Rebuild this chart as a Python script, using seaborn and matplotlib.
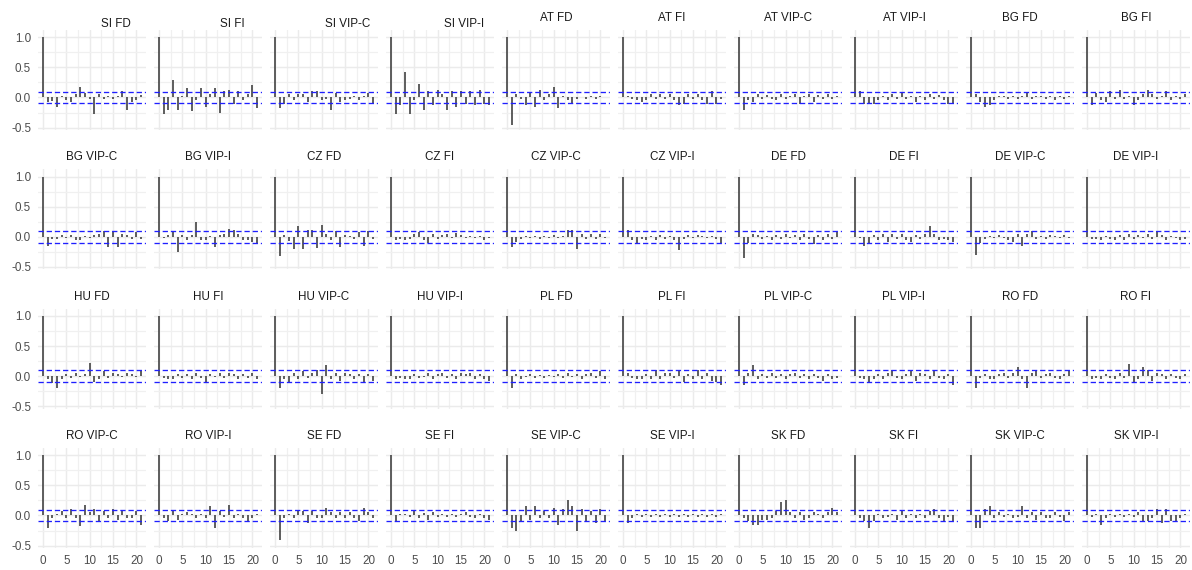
import numpy as np
import pandas as pd
import matplotlib
matplotlib.use("Agg")
import matplotlib.pyplot as plt
from matplotlib.ticker import MultipleLocator, FormatStrFormatter
from matplotlib.text import Text
import seaborn as sns

# ---- data: autocorrelations at lags 1..21 (lag 0 is always 1) ----
si_fd    = [-0.07,-0.06,-0.15,0.03,-0.05,-0.07,0.05,0.18,0.08,-0.03,-0.28,0.05,-0.03,0.02,-0.02,0.03,0.10,-0.20,-0.08,-0.05,0.04]
si_fi    = [-0.27,-0.20,0.29,-0.20,0.03,0.15,-0.22,-0.05,0.15,-0.15,0.05,0.15,-0.25,0.10,0.12,-0.10,0.10,-0.05,0.05,0.20,-0.18]
si_vipc  = [-0.18,-0.10,0.05,-0.05,0.05,0.05,-0.08,0.10,0.10,-0.05,-0.03,-0.20,0.08,-0.08,-0.05,-0.03,0.03,-0.05,0.03,0.08,-0.10]
si_vipi  = [-0.28,-0.12,0.42,-0.28,-0.05,0.22,-0.20,0.10,-0.12,0.12,0.05,-0.20,0.10,-0.15,0.10,-0.10,0.10,-0.12,0.13,-0.10,-0.12]
at_fd    = [-0.46,0.05,-0.02,-0.12,0.08,-0.15,0.12,-0.05,0.05,0.18,-0.18,0.03,-0.04,-0.10,-0.02,0.01,-0.03,0.03,-0.02,0.02,0.01]
at_fi    = [0.02,-0.02,-0.05,-0.07,-0.05,0.05,-0.03,0.06,-0.03,0.05,-0.05,-0.12,-0.10,0.05,-0.03,0.06,-0.05,-0.10,0.10,-0.10,-0.03]
at_vipc  = [-0.20,-0.05,-0.08,0.05,-0.02,0.04,-0.03,-0.05,0.05,-0.03,0.03,0.05,-0.10,0.02,0.06,-0.08,0.04,-0.03,0.05,-0.03,0.02]
at_vipi  = [0.10,-0.10,-0.10,-0.10,-0.05,0.03,-0.05,0.05,-0.03,0.07,-0.02,0.03,-0.07,0.03,-0.05,0.06,-0.03,0.04,-0.05,-0.10,-0.10]
bg_fd    = [0.05,-0.08,-0.15,-0.12,-0.05,0.03,0.02,-0.03,0.03,-0.02,0.02,0.08,-0.02,0.02,0.03,-0.03,0.02,-0.04,0.02,-0.02,0.02]
bg_fi    = [-0.12,0.07,-0.05,-0.07,0.10,-0.02,0.12,-0.03,0.03,-0.12,-0.05,0.05,0.12,0.05,-0.03,0.03,0.10,-0.05,0.03,-0.03,0.05]

bg_vipc  = [-0.15,-0.03,-0.03,0.03,-0.02,0.03,-0.05,-0.05,0.02,-0.02,0.03,0.05,0.10,-0.17,0.10,-0.17,0.05,0.03,-0.03,0.08,-0.03]
bg_vipi  = [-0.02,0.03,0.08,-0.25,0.03,-0.05,0.03,0.25,-0.05,-0.05,0.02,-0.17,0.03,0.05,0.13,0.12,0.05,-0.05,-0.05,-0.08,-0.12]
cz_fd    = [-0.32,0.03,-0.07,-0.20,0.18,-0.20,0.12,0.12,-0.18,0.20,0.05,-0.05,0.10,-0.17,0.03,0.02,-0.03,0.08,-0.15,0.10,-0.03]
cz_fi    = [-0.05,-0.03,-0.05,-0.03,0.05,0.08,-0.05,-0.10,0.05,-0.03,0.03,0.05,-0.02,0.06,0.03,-0.02,0.02,-0.02,0.02,-0.05,-0.02]
cz_vipc  = [-0.17,-0.08,-0.03,0.02,-0.02,0.02,-0.03,0.02,-0.02,0.03,-0.02,0.02,0.12,0.12,-0.20,0.05,-0.03,0.05,-0.03,0.05,-0.02]
cz_vipi  = [0.12,-0.05,-0.10,-0.03,-0.05,0.02,-0.05,0.03,-0.03,0.02,-0.05,-0.22,-0.03,0.03,-0.02,0.03,0.02,-0.02,0.02,-0.03,-0.10]
de_fd    = [-0.35,-0.10,0.05,0.03,-0.03,0.02,-0.05,0.03,-0.03,0.05,-0.02,0.03,-0.05,0.05,-0.03,-0.12,0.03,-0.05,0.05,-0.03,0.08]
de_fi    = [-0.02,-0.15,-0.12,0.03,-0.05,0.05,-0.08,0.05,-0.03,0.05,-0.05,-0.08,0.03,-0.03,0.05,0.18,0.05,-0.05,-0.03,-0.05,-0.08]
de_vipc  = [-0.30,-0.10,-0.03,0.02,-0.02,0.03,-0.02,-0.05,-0.08,0.05,-0.15,0.05,0.10,-0.03,0.02,-0.03,0.03,0.02,-0.02,0.03,-0.02]
de_vipi  = [-0.03,-0.03,-0.05,0.02,-0.03,-0.05,0.03,-0.05,0.05,-0.03,0.03,-0.02,0.05,-0.03,0.10,0.03,-0.05,0.02,-0.02,-0.05,-0.03]

hu_fd    = [-0.05,-0.12,-0.20,-0.05,0.03,-0.03,0.05,-0.02,0.03,0.22,-0.10,-0.05,0.08,-0.03,0.05,0.03,-0.02,0.05,0.03,-0.02,0.10]
hu_fi    = [-0.03,-0.05,-0.05,0.03,-0.03,0.03,-0.05,0.05,-0.03,-0.10,0.03,-0.02,0.05,-0.03,0.05,0.03,-0.05,0.03,-0.03,0.05,-0.05]
hu_vipc  = [-0.20,-0.05,-0.10,0.05,-0.05,0.08,-0.03,0.05,0.10,-0.30,0.18,-0.05,0.05,-0.08,0.05,0.03,-0.05,0.03,-0.10,0.03,-0.08]
hu_vipi  = [-0.05,-0.03,-0.05,-0.05,0.03,-0.03,-0.02,0.05,-0.05,0.03,0.05,-0.03,0.03,-0.05,0.05,0.03,0.05,-0.05,0.03,-0.05,-0.08]
pl_fd    = [-0.20,0.03,-0.05,-0.02,0.03,-0.03,0.02,-0.03,0.02,-0.02,0.03,-0.03,0.05,-0.02,0.03,-0.05,0.03,0.05,-0.03,0.08,-0.05]
pl_fi    = [0.05,-0.03,-0.05,-0.05,0.03,-0.05,0.10,-0.05,0.05,0.05,-0.03,0.08,-0.10,0.03,-0.05,0.10,-0.05,0.05,-0.08,-0.10,-0.15]
pl_vipc  = [-0.15,0.05,0.18,-0.05,0.03,-0.03,0.05,-0.03,0.03,-0.05,0.03,0.05,-0.03,0.03,-0.05,0.03,-0.03,-0.08,0.03,-0.05,-0.03]
pl_vipi  = [-0.03,-0.05,-0.10,-0.05,0.03,-0.05,0.05,0.10,-0.03,-0.05,0.03,0.10,-0.08,0.05,0.03,-0.05,0.08,-0.03,-0.05,0.03,-0.15]
ro_fd    = [-0.20,-0.03,0.03,-0.05,-0.05,0.03,0.05,-0.03,0.05,0.15,-0.05,-0.20,0.05,0.10,-0.03,0.03,0.05,-0.03,-0.05,0.03,0.08]
ro_fi    = [-0.05,-0.03,-0.05,0.03,-0.03,-0.05,0.05,-0.03,0.20,-0.10,-0.05,0.15,0.10,-0.08,0.05,0.03,-0.05,0.03,-0.03,-0.05,0.03]

ro_vipc  = [-0.20,-0.05,0.03,0.07,-0.05,0.10,-0.05,-0.18,0.17,0.05,0.10,-0.10,0.07,-0.05,0.10,-0.07,0.08,-0.05,-0.05,0.08,-0.15]
ro_vipi  = [-0.05,-0.10,0.07,-0.07,0.03,0.05,0.03,-0.05,0.03,-0.05,0.15,-0.20,0.07,-0.03,0.17,-0.05,0.03,-0.05,-0.10,-0.05,0.03]
se_fd    = [-0.40,-0.05,0.02,-0.05,0.07,0.07,-0.12,0.07,-0.05,-0.05,0.12,0.05,-0.05,0.05,-0.05,0.05,-0.05,-0.10,0.12,0.05,-0.05]
se_fi    = [-0.10,0.02,0.03,-0.02,0.07,-0.05,0.04,-0.07,0.05,-0.03,0.02,-0.03,0.02,-0.02,0.03,0.05,-0.02,-0.05,0.02,-0.05,-0.08]
se_vipc  = [-0.20,-0.25,-0.10,0.15,-0.08,0.15,-0.05,0.08,-0.05,0.12,-0.15,0.10,0.25,0.15,-0.25,0.10,-0.10,0.08,-0.12,0.10,-0.10]
se_vipi  = [-0.12,-0.05,0.03,-0.02,0.03,-0.03,0.02,-0.03,0.03,-0.02,0.03,-0.03,0.02,-0.02,0.03,-0.03,0.02,-0.02,0.03,-0.03,0.02]
sk_fd    = [-0.05,-0.10,-0.15,-0.15,-0.07,-0.07,-0.05,0.07,0.22,0.25,0.05,-0.05,0.05,-0.07,-0.05,0.05,0.03,-0.05,0.05,0.12,0.05]
sk_fi    = [-0.05,-0.10,-0.20,-0.10,0.02,-0.05,-0.03,0.03,-0.07,0.07,-0.05,0.03,-0.05,0.02,-0.05,0.08,0.10,-0.05,-0.10,-0.02,-0.10]
sk_vipc  = [-0.20,-0.20,0.10,0.15,-0.05,0.05,-0.03,0.03,-0.05,-0.02,0.15,-0.05,0.05,-0.07,0.05,-0.05,-0.05,0.05,-0.02,-0.10,0.05]
sk_vipi  = [-0.03,0.03,-0.15,-0.05,0.03,-0.03,0.02,-0.03,0.03,-0.02,0.05,-0.10,-0.10,-0.05,0.10,-0.12,0.10,-0.10,-0.10,-0.05,0.03]

panel_names = ["SI FD", "SI FI", "SI VIP-C", "SI VIP-I", "AT FD", "AT FI", "AT VIP-C", "AT VIP-I", "BG FD", "BG FI",
               "BG VIP-C", "BG VIP-I", "CZ FD", "CZ FI", "CZ VIP-C", "CZ VIP-I", "DE FD", "DE FI", "DE VIP-C", "DE VIP-I",
               "HU FD", "HU FI", "HU VIP-C", "HU VIP-I", "PL FD", "PL FI", "PL VIP-C", "PL VIP-I", "RO FD", "RO FI",
               "RO VIP-C", "RO VIP-I", "SE FD", "SE FI", "SE VIP-C", "SE VIP-I", "SK FD", "SK FI", "SK VIP-C", "SK VIP-I"]
panel_values = [si_fd, si_fi, si_vipc, si_vipi, at_fd, at_fi, at_vipc, at_vipi, bg_fd, bg_fi,
                bg_vipc, bg_vipi, cz_fd, cz_fi, cz_vipc, cz_vipi, de_fd, de_fi, de_vipc, de_vipi,
                hu_fd, hu_fi, hu_vipc, hu_vipi, pl_fd, pl_fi, pl_vipc, pl_vipi, ro_fd, ro_fi,
                ro_vipc, ro_vipi, se_fd, se_fi, se_vipc, se_vipi, sk_fd, sk_fi, sk_vipc, sk_vipi]
conf_bound = 0.098

rows = []
for name, vals in zip(panel_names, panel_values):
    for lag, v in enumerate([1.0] + list(vals)):
        rows.append({"series": name, "lag": lag, "acf": v})
df = pd.DataFrame(rows)

# ---- styling ----
sns.set_theme(style="whitegrid")
plt.rcParams["font.family"] = ["Liberation Sans", "DejaVu Sans"]

g = sns.FacetGrid(df, col="series", col_wrap=10, col_order=panel_names,
                  sharex=True, sharey=True, height=1.0, aspect=1.08, despine=False)

def draw_acf(data, **kws):
    ax = plt.gca()
    ax.vlines(data["lag"], 0, data["acf"], colors="#4a4a4a", linewidth=1.25, zorder=3)
    ax.axhline(conf_bound, color="#1f1fff", linestyle=(0, (4, 2.2)), linewidth=0.95, zorder=4)
    ax.axhline(-conf_bound, color="#1f1fff", linestyle=(0, (4, 2.2)), linewidth=0.95, zorder=4)

g.map_dataframe(draw_acf)

fig = g.figure
fig.set_size_inches(11.92, 5.70)
fig.set_dpi(100)
fig.subplots_adjust(left=38 / 1192, right=1190 / 1192, top=1 - 30 / 570, bottom=1 - 548 / 570,
                    wspace=8 / 108, hspace=39.3 / 100)
g.set_axis_labels("", "")
g.set_titles("{col_name}", size=8.4, color="#1A1A1A", pad=6.5)

ax0 = g.axes.flat[0]
ax0.set_xlim(-1.05, 22.05)
ax0.set_ylim(-0.54, 1.12)
ax0.xaxis.set_major_locator(MultipleLocator(5))
ax0.xaxis.set_minor_locator(MultipleLocator(2.5))
ax0.yaxis.set_major_locator(MultipleLocator(0.5))
ax0.yaxis.set_minor_locator(MultipleLocator(0.25))
ax0.yaxis.set_major_formatter(FormatStrFormatter("%.1f"))

for i, ax in enumerate(g.axes.flat):
    ax.grid(True, which="major", color="#EBEBEB", linewidth=1.05)
    ax.grid(True, which="minor", color="#F0F0F0", linewidth=0.9)
    ax.set_axisbelow(True)
    for s in ax.spines.values():
        s.set_visible(False)
    ax.tick_params(axis="both", which="major", length=0, labelsize=8.4, labelcolor="#4D4D4D", pad=5)
    ax.tick_params(axis="both", which="minor", length=0)
    ax.set_facecolor("white")
    if i < 4:
        ax.set_title(panel_names[i], size=8.4, color="#1A1A1A", pad=2.2)
        ax.title.set_position((0.5 + 24 / 108, 1.0))

# hide any stray text lying inside a panel area
fig.canvas.draw()
renderer = fig.canvas.get_renderer()
for ax in g.axes.flat:
    abox = ax.get_window_extent(renderer)
    for t in fig.findobj(Text):
        if not t.get_visible() or not t.get_text():
            continue
        tb = t.get_window_extent(renderer)
        cx, cy = (tb.x0 + tb.x1) / 2, (tb.y0 + tb.y1) / 2
        if abox.x0 + 3 < cx < abox.x1 - 3 and abox.y0 + 3 < cy < abox.y1 - 3:
            t.set_visible(False)

fig.savefig("out.png", dpi=100, facecolor="white")
